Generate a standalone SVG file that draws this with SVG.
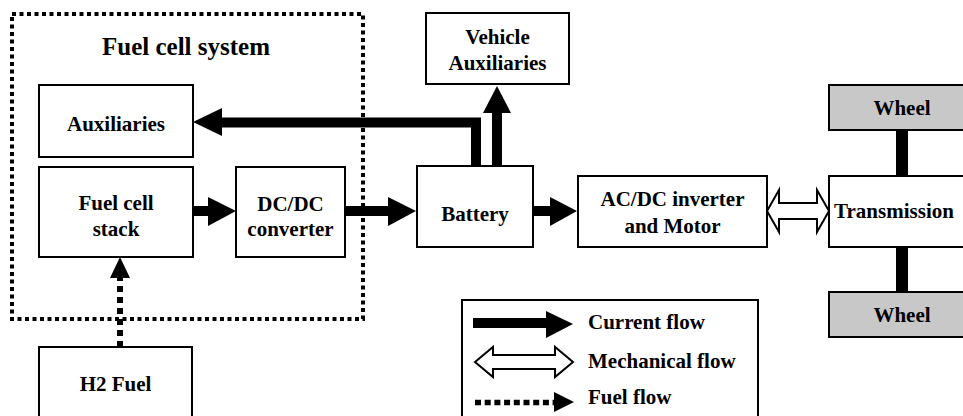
<svg xmlns="http://www.w3.org/2000/svg" width="963" height="416" viewBox="0 0 963 416">
<style>
.box{fill:#fff;stroke:#000;stroke-width:2}
.gray{fill:#c8c8c8;stroke:#000;stroke-width:2}
text{font-family:"Liberation Serif","Times New Roman",serif;font-weight:bold;font-size:21px;fill:#000;text-anchor:middle}
.title{font-size:25px}
.lg{text-anchor:start}
.shaft{stroke:#000;stroke-width:10;fill:none}
.head{fill:#000}
.mech{fill:#fff;stroke:#000;stroke-width:2;stroke-linejoin:miter}
.dots{stroke:#000;fill:none}
</style>
<rect width="963" height="416" fill="#fff"/>
<g id="fuel-cell-system">
<rect x="12" y="14" width="351" height="305" fill="none" stroke="#000" stroke-width="4" stroke-dasharray="4 3.5"/>
<text class="title" x="186" y="55">Fuel cell system</text>
</g>
<g id="auxiliaries"><rect class="box" x="39" y="85" width="154" height="72"/><text x="116" y="131">Auxiliaries</text></g>
<g id="fuel-cell-stack"><rect class="box" x="39" y="167" width="154" height="90"/><text x="116" y="210">Fuel cell</text><text x="116" y="236">stack</text></g>
<g id="dcdc"><rect class="box" x="236" y="167" width="109" height="90"/><text x="290.5" y="211">DC/DC</text><text x="290.5" y="236">converter</text></g>
<g id="h2-fuel"><rect class="box" x="39" y="347" width="153" height="80"/><text x="115.5" y="391">H2 Fuel</text></g>
<g id="vehicle-aux"><rect class="box" x="426" y="13" width="143" height="71"/><text x="497.5" y="44">Vehicle</text><text x="497.5" y="70">Auxiliaries</text></g>
<g id="battery"><rect class="box" x="417" y="166" width="116" height="81"/><text x="475" y="221">Battery</text></g>
<g id="inverter"><rect class="box" x="578" y="176" width="189" height="71"/><text x="672.5" y="206">AC/DC inverter</text><text x="672.5" y="233">and Motor</text></g>
<g id="transmission"><rect class="box" x="829" y="176" width="140" height="71"/><text x="894" y="218">Transmission</text></g>
<g id="wheel-top"><rect class="gray" x="829" y="85" width="140" height="45"/><text x="902" y="115">Wheel</text></g>
<g id="wheel-bottom"><rect class="gray" x="829" y="292" width="140" height="45"/><text x="902" y="322">Wheel</text></g>
<g id="connectors">
<polyline class="shaft" points="476,166 476,122.5 220,122.5"/>
<polygon class="head" points="193,122 222,108 222,136"/>
<line class="shaft" x1="497" y1="166" x2="497" y2="110"/>
<polygon class="head" points="497,86 483,113 511,113"/>
<line class="shaft" x1="193" y1="211" x2="210" y2="211" stroke-width="12"/>
<polygon class="head" points="236,211 208,197 208,226"/>
<line class="shaft" x1="345" y1="211" x2="390" y2="211" stroke-width="12"/>
<polygon class="head" points="416,211 388,197 388,226"/>
<line class="shaft" x1="533" y1="211" x2="552" y2="211" stroke-width="12"/>
<polygon class="head" points="577,211 550,197 550,226"/>
<line class="dots" x1="120" y1="347" x2="120" y2="277" stroke-width="6" stroke-dasharray="6 5"/>
<polygon class="head" points="120,257 110,278 130,278"/>
<polygon class="mech" points="767,211 779,190 779,203 817,203 817,190 829,211 817,232 817,219 779,219 779,232"/>
<rect x="896" y="130" width="12" height="46" fill="#000"/>
<rect x="896" y="247" width="12" height="45" fill="#000"/>
</g>
<g id="legend">
<rect class="box" x="462" y="300" width="296" height="130"/>
<line class="shaft" x1="473" y1="323" x2="548" y2="323"/>
<polygon class="head" points="573,324 546,311 546,338"/>
<text class="lg" x="588" y="329">Current flow</text>
<polygon class="mech" points="475,362 493,347 493,355 555,355 555,347 573,362 555,377 555,369 493,369 493,377"/>
<text class="lg" x="588" y="368">Mechanical flow</text>
<line class="dots" x1="475" y1="402.5" x2="556" y2="402.5" stroke-width="5.5" stroke-dasharray="6 3.7"/>
<polygon class="head" points="574,402 554,392 554,412"/>
<text class="lg" x="588" y="404">Fuel flow</text>
</g>
</svg>
